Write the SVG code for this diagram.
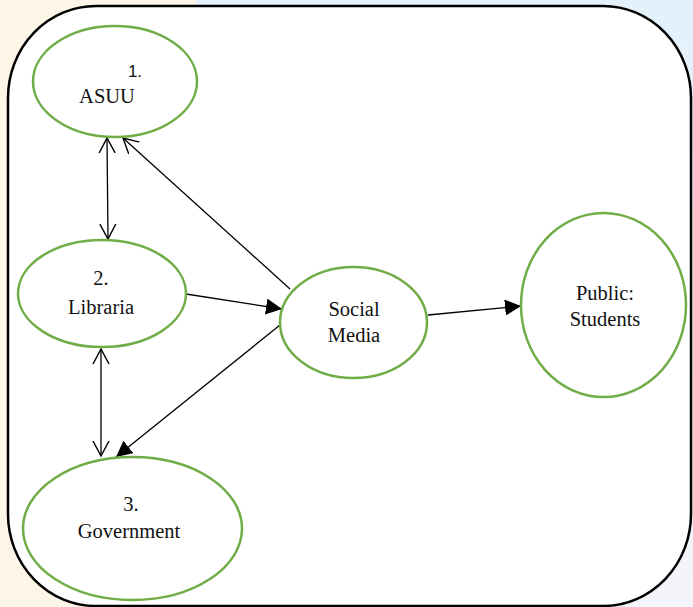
<svg xmlns="http://www.w3.org/2000/svg" width="693" height="607" viewBox="0 0 693 607">
  <style>
    .node { fill: #ffffff; stroke: #70ad47; stroke-width: 2.5; }
    .edge { fill: none; stroke: #000; stroke-width: 1.3; }
  </style>
  <defs>
    <linearGradient id="bgRight" x1="0" y1="0" x2="0" y2="1">
      <stop offset="0" stop-color="#e3f1fb"/>
      <stop offset="1" stop-color="#f4f4fa"/>
    </linearGradient>
    <marker id="open" viewBox="0 0 16 18" refX="15" refY="9" markerWidth="16" markerHeight="18" markerUnits="userSpaceOnUse" orient="auto-start-reverse">
      <path d="M0,1 L15,9 L0,17" fill="none" stroke="#000" stroke-width="1.4"/>
    </marker>
    <marker id="filled" viewBox="0 0 16 16" refX="16" refY="8" markerWidth="16" markerHeight="16" markerUnits="userSpaceOnUse" orient="auto">
      <path d="M0,0 L16,8 L0,16 Z" fill="#000"/>
    </marker>
  </defs>

  <!-- page background -->
  <rect x="0" y="0" width="693" height="607" fill="#fdf5e6"/>
  <rect x="196" y="0" width="497" height="607" fill="url(#bgRight)"/>

  <!-- frame -->
  <rect x="8" y="6" width="683" height="600" rx="88" ry="92" fill="#ffffff" stroke="#000" stroke-width="2.5"/>

  <!-- connectors -->
  <g id="connectors">
    <line class="edge" x1="107" y1="138" x2="108" y2="239" marker-start="url(#open)" marker-end="url(#open)"/>
    <line class="edge" x1="290" y1="289" x2="123" y2="138" stroke-width="1.9" marker-end="url(#open)"/>
    <line class="edge" x1="186" y1="294" x2="282" y2="309" marker-end="url(#filled)"/>
    <line class="edge" x1="280" y1="325" x2="116" y2="457" marker-end="url(#filled)"/>
    <line class="edge" x1="428" y1="315" x2="521" y2="306" marker-end="url(#filled)"/>
    <line class="edge" x1="101" y1="349" x2="101" y2="456" marker-start="url(#open)" marker-end="url(#open)"/>
  </g>

  <!-- nodes -->
  <g font-family="Liberation Serif, Times New Roman, serif" font-size="20.5" fill="#111" text-anchor="middle">
    <g id="asuu">
      <ellipse class="node" cx="115" cy="81.5" rx="82" ry="55.5"/>
      <text x="135" y="77" font-family="Liberation Sans, Arial, sans-serif" font-size="17">1.</text>
      <text x="107" y="103">ASUU</text>
    </g>
    <g id="libraria">
      <ellipse class="node" cx="102" cy="293.5" rx="84" ry="53.5"/>
      <text x="101" y="285">2.</text>
      <text x="101" y="314">Libraria</text>
    </g>
    <g id="social-media">
      <ellipse class="node" cx="353.5" cy="322.5" rx="73.5" ry="55.5"/>
      <text x="354" y="316">Social</text>
      <text x="354" y="342">Media</text>
    </g>
    <g id="public-students">
      <ellipse class="node" cx="603.5" cy="305" rx="82.5" ry="92"/>
      <text x="605" y="300">Public:</text>
      <text x="605" y="326">Students</text>
    </g>
    <g id="government">
      <ellipse class="node" cx="132.5" cy="528.5" rx="109.5" ry="71.5"/>
      <text x="131" y="511">3.</text>
      <text x="129" y="538">Government</text>
    </g>
  </g>
</svg>
